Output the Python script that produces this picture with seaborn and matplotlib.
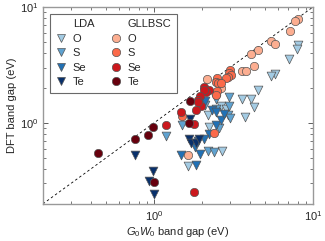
import matplotlib
matplotlib.use('Agg')
import matplotlib.pyplot as plt
import seaborn as sns
from matplotlib.lines import Line2D
from matplotlib.ticker import LogLocator

# G0W0 gap (x) and DFT gap (y) per functional and anion
lda_O_gw = [8.03, 7.90, 7.11, 5.80, 5.42, 4.48, 4.10, 3.60, 4.25, 3.72, 2.68, 1.63, 2.21, 2.65, 2.85, 2.20]
lda_O_gap = [4.69, 4.31, 3.54, 2.65, 2.55, 1.91, 1.61, 1.61, 1.37, 1.13, 0.57, 0.425, 0.92, 1.39, 1.32, 1.18]
lda_S_gw = [1.19, 1.50, 2.18, 2.40, 2.96, 2.45, 2.10, 2.90, 3.00, 2.58, 2.95, 2.46]
lda_S_gap = [0.77, 0.95, 0.57, 0.56, 1.66, 1.32, 1.44, 1.18, 1.10, 0.90, 1.40, 1.60]
lda_Se_gw = [1.48, 1.84, 1.96, 2.21, 2.45, 2.65, 2.09, 2.30, 2.75, 1.90, 2.05, 2.45, 1.82]
lda_Se_gap = [0.525, 0.434, 0.535, 0.80, 0.96, 1.05, 1.55, 1.30, 1.20, 0.70, 0.72, 1.25, 0.62]
lda_Te_gw = [0.758, 0.99, 0.93, 1.00, 1.69, 1.67, 1.71, 1.84, 1.93]
lda_Te_gap = [0.528, 0.385, 0.316, 0.243, 1.08, 0.72, 0.674, 0.665, 0.72]

gllb_O_gw = [8.03, 7.73, 7.18, 5.42, 5.80, 4.48, 4.10, 4.24, 3.60, 3.78, 2.15, 2.65, 1.63]
gllb_O_gap = [7.94, 7.59, 6.19, 5.11, 4.76, 4.25, 3.93, 3.10, 2.83, 2.83, 2.38, 2.00, 0.525]
gllb_S_gw = [2.99, 2.96, 3.03, 2.93, 2.85, 2.48, 2.46, 2.52, 2.62, 2.48, 2.46, 1.50, 2.38]
gllb_S_gap = [2.87, 2.72, 2.60, 2.48, 2.42, 2.45, 2.26, 2.19, 2.21, 1.88, 1.75, 1.14, 0.82]
gllb_Se_gw = [2.07, 2.21, 2.13, 2.05, 1.96, 1.90, 1.98, 1.88, 1.84, 1.48, 1.19, 1.78, 1.78]
gllb_Se_gap = [2.06, 1.93, 1.83, 1.93, 1.69, 1.56, 1.41, 1.50, 1.30, 1.24, 0.95, 0.97, 0.255]
gllb_Te_gw = [0.442, 0.758, 0.921, 0.99, 1.00, 1.69, 1.67]
gllb_Te_gap = [0.546, 0.729, 0.779, 0.918, 0.31, 1.53, 1.00]

anions = ['O', 'S', 'Se', 'Te']
blues = ['#a3cbe3', '#5fa2d0', '#2171b5', '#08306b']
reds = ['#fcae91', '#fb6a4a', '#cb181d', '#67000d']

lda = [(lda_O_gw, lda_O_gap), (lda_S_gw, lda_S_gap), (lda_Se_gw, lda_Se_gap), (lda_Te_gw, lda_Te_gap)]
gllb = [(gllb_O_gw, gllb_O_gap), (gllb_S_gw, gllb_S_gap), (gllb_Se_gw, gllb_Se_gap), (gllb_Te_gw, gllb_Te_gap)]

sns.set_style('ticks')
plt.rcParams['font.family'] = ['Liberation Sans', 'DejaVu Sans']
plt.rcParams['mathtext.fontset'] = 'custom'
plt.rcParams['mathtext.it'] = 'Liberation Sans:italic'
plt.rcParams['mathtext.rm'] = 'Liberation Sans'

fig = plt.figure(figsize=(3.25, 2.41), dpi=100)
ax = fig.add_axes([0.132, 0.154, 0.831, 0.817])

ax.plot([0.2, 10], [0.2, 10], ls=(0, (3, 3)), color='black', lw=0.6, zorder=1)

for (gx, gy), c in zip(lda, blues):
    sns.scatterplot(x=gx, y=gy, marker='v', s=40, color=c, edgecolor='#555555',
                    linewidth=0.5, ax=ax, zorder=3, legend=False)
for (gx, gy), c in zip(gllb, reds):
    sns.scatterplot(x=gx, y=gy, marker='o', s=36, color=c, edgecolor='#555555',
                    linewidth=0.5, ax=ax, zorder=3, legend=False)

ax.set_xscale('log')
ax.set_yscale('log')
ax.set_xlim(0.2, 10)
ax.set_ylim(0.2, 10)
ax.xaxis.set_major_locator(LogLocator(base=10))
ax.yaxis.set_major_locator(LogLocator(base=10))

ax.set_xlabel('$G_0W_0$ band gap (eV)', fontsize=8, labelpad=2)
ax.set_ylabel('DFT band gap (eV)', fontsize=8, labelpad=2)
ax.tick_params(which='both', direction='in', top=True, right=True, labelsize=8, color='#444444')
ax.tick_params(which='major', length=3.5, width=0.6)
ax.tick_params(which='minor', length=2, width=0.5)
for sp in ax.spines.values():
    sp.set_color('#999999')
    sp.set_linewidth(1.0)

blank = Line2D([], [], linestyle='none')
handles = [blank]
labels = ['LDA']
for a, c in zip(anions, blues):
    handles.append(Line2D([], [], marker='v', linestyle='none', markersize=6,
                          markerfacecolor=c, markeredgecolor='#555555', markeredgewidth=0.5))
    labels.append(a)
handles.append(blank)
labels.append('GLLBSC')
for a, c in zip(anions, reds):
    handles.append(Line2D([], [], marker='o', linestyle='none', markersize=6,
                          markerfacecolor=c, markeredgecolor='#555555', markeredgewidth=0.5))
    labels.append(a)

leg = ax.legend(handles, labels, ncol=2, loc='upper left', fontsize=8, frameon=True,
                fancybox=False, handlelength=1.0, handletextpad=0.6, columnspacing=1.4,
                labelspacing=0.4, borderaxespad=0.6, borderpad=0.5)
leg.get_frame().set_edgecolor('#444444')
leg.get_frame().set_linewidth(0.8)

fig.savefig('out.png', dpi=100)
